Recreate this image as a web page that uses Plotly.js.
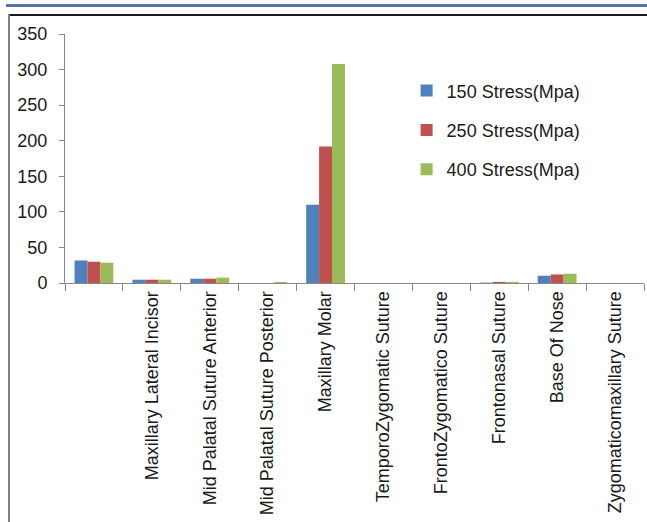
<!DOCTYPE html>
<html>
<head>
<meta charset="utf-8">
<script src="https://cdn.plot.ly/plotly-3.0.1.min.js"></script>
<style>
  html, body { margin:0; padding:0; background:#fff; }
  #wrap { position:relative; width:647px; height:522px; overflow:hidden; }
  #chart { position:absolute; left:0; top:0; width:647px; height:522px; }
  .deco { position:absolute; pointer-events:none; }
</style>
</head>
<body>
<div id="wrap">
  <div id="chart"></div>
  <div class="deco" style="left:6px; top:4px; width:641px; height:3px; background:#5b74a0;"></div>
  <div class="deco" style="left:8px; top:14px; width:639px; height:2px; background:#1a1a1a;"></div>
  <div class="deco" style="left:8px; top:14px; width:2px; height:508px; background:#7f7f7f;"></div>
</div>
<script>
const categories = ["", "Maxillary Lateral Incisor", "Mid Palatal Suture Anterior", "Mid Palatal Suture Posterior", "Maxillary Molar", "TemporoZygomatic Suture", "FrontoZygomatico Suture", "Frontonasal Suture", "Base Of Nose", "Zygomaticomaxillary Suture"];
const stress150 = [31.7, 4.6, 6, 0, 110, 0, 0, 0.5, 10.2, 0];
const stress250 = [29.9, 4.6, 6, 0, 192, 0, 0, 1.5, 12, 0];
const stress400 = [28.5, 4.6, 7.5, 1.5, 308, 0, 0, 1.5, 13, 0];
const seriesNames = ["150 Stress(Mpa)", "250 Stress(Mpa)", "400 Stress(Mpa)"];
const seriesColors = ["#4f81bd", "#c0504d", "#9bbb59"];
const yTicks = [0, 50, 100, 150, 200, 250, 300, 350];

const xIdx = categories.map((c, i) => i);
const series = [stress150, stress250, stress400];
const traces = series.map((vals, k) => ({
  type: 'bar',
  x: xIdx,
  y: vals,
  name: seriesNames[k],
  legendgroup: 'g' + k,
  marker: { color: seriesColors[k], line: { width: 0 } },
  hoverinfo: 'skip'
}));

const font = { family: 'Liberation Sans, Arial, sans-serif', size: 18, color: '#1a1a1a' };

const layout = {
  width: 647, height: 522,
  margin: { l: 65, r: 3, t: 34, b: 239, pad: 0 },
  paper_bgcolor: '#fff', plot_bgcolor: '#fff',
  font: font,
  barmode: 'group',
  bargap: 0.33,
  bargroupgap: 0,
  showlegend: true,
  legend: {
    x: 0.59, y: 0.846, xanchor: 'left', yanchor: 'top',
    bgcolor: 'rgba(0,0,0,0)',
    font: { family: font.family, size: 18, color: '#1a1a1a' },
    traceorder: 'grouped',
    tracegroupgap: 13
  },
  xaxis: {
    range: [-0.5, categories.length - 0.5],
    tickmode: 'array',
    tickvals: xIdx,
    ticktext: categories,
    tickangle: -90,
    ticks: '',
    showgrid: false,
    zeroline: false,
    showline: true,
    linecolor: '#888', linewidth: 1,
    minor: { ticks: 'outside', ticklen: 7, tickcolor: '#888', tickwidth: 1, tick0: -0.5, dtick: 1, showgrid: false },
    tickfont: font,
    fixedrange: true
  },
  yaxis: {
    range: [0, 350],
    tickmode: 'array',
    tickvals: yTicks,
    ticktext: yTicks.map(String),
    ticks: 'outside', ticklen: 5, tickcolor: '#888', tickwidth: 1,
    showgrid: false,
    zeroline: false,
    showline: true,
    linecolor: '#888', linewidth: 1,
    tickfont: font,
    ticklabelstandoff: 8,
    fixedrange: true
  }
};

Plotly.newPlot('chart', traces, layout, { displayModeBar: false, staticPlot: true });
</script>
</body>
</html>
